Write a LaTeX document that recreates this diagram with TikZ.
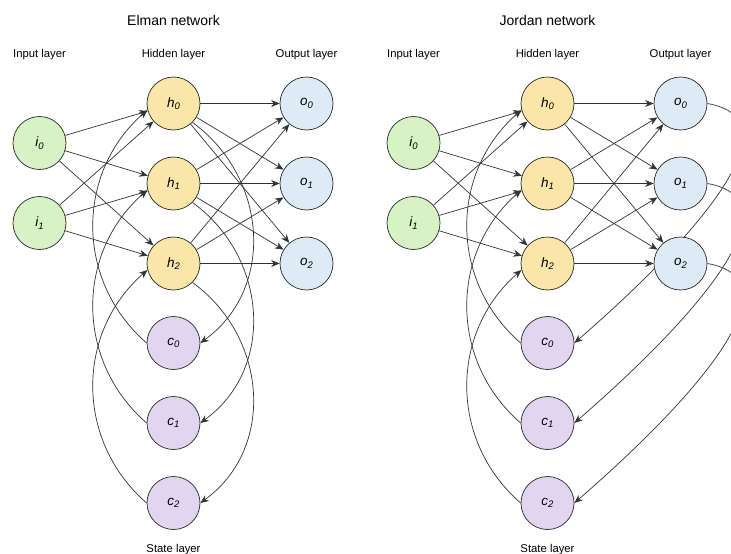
\documentclass[tikz,border=0pt]{standalone}
\usepackage{fontspec}
\setmainfont{Liberation Sans}
\usetikzlibrary{arrows.meta,backgrounds}

\definecolor{inpfill}{HTML}{D7F2C4}
\definecolor{hidfill}{HTML}{FAE6A8}
\definecolor{outfill}{HTML}{DEEBF7}
\definecolor{ctxfill}{HTML}{E1D5F0}
\definecolor{ink}{HTML}{333333}

% italic unit name with a lowered italic index
\newcommand\unitlbl[2]{{\fontsize{13.5}{14}\selectfont\itshape #1\raisebox{-2.6pt}{\fontsize{9.5}{10}\selectfont #2}}}

\tikzset{
  unit/.style={circle, draw=ink, line width=0.75pt, minimum size=53pt, inner sep=0pt},
  inpunit/.style={unit, fill=inpfill},
  hidunit/.style={unit, fill=hidfill},
  outunit/.style={unit, fill=outfill},
  ctxunit/.style={unit, fill=ctxfill},
  link/.style={draw=ink, line width=0.7pt, -{Stealth[length=8.5pt,width=7pt]}},
  heading/.style={font=\fontsize{14}{16}\selectfont, anchor=base},
  layerlbl/.style={font=\fontsize{11.3}{13}\selectfont, anchor=base},
}

% one network: #1 name prefix, #2 horizontal offset, #3 title
\newcommand\netlayers[3]{%
  \node[heading]  (#1title) at (173.5+#2,-25)   {#3};
  \node[layerlbl] (#1inlbl) at (39.5+#2,-57.5)  {Input layer};
  \node[layerlbl] (#1hdlbl) at (173.5+#2,-57.5) {Hidden layer};
  \node[layerlbl] (#1oulbl) at (306.5+#2,-57.5) {Output layer};
  \node[layerlbl] (#1stlbl) at (173.5+#2,-552)  {State layer};
  \node[inpunit] (#1i0) at (39.5+#2,-143) {\unitlbl{i}{0}};
  \node[inpunit] (#1i1) at (39.5+#2,-223) {\unitlbl{i}{1}};
  \node[hidunit] (#1h0) at (173.5+#2,-103.5) {\unitlbl{h}{0}};
  \node[hidunit] (#1h1) at (173.5+#2,-183.5) {\unitlbl{h}{1}};
  \node[hidunit] (#1h2) at (173.5+#2,-263.5) {\unitlbl{h}{2}};
  \node[outunit] (#1o0) at (306.5+#2,-103.5) {\unitlbl{o}{0}};
  \node[outunit] (#1o1) at (306.5+#2,-183.5) {\unitlbl{o}{1}};
  \node[outunit] (#1o2) at (306.5+#2,-263.5) {\unitlbl{o}{2}};
  \node[ctxunit] (#1c0) at (173.5+#2,-343) {\unitlbl{c}{0}};
  \node[ctxunit] (#1c1) at (173.5+#2,-423) {\unitlbl{c}{1}};
  \node[ctxunit] (#1c2) at (173.5+#2,-503) {\unitlbl{c}{2}};
  \begin{pgfonlayer}{background}
    \foreach \a in {0,1} \foreach \b in {0,1,2} \draw[link] (#1i\a) -- (#1h\b);
    \foreach \a in {0,1,2} \foreach \b in {0,1,2} \draw[link] (#1h\a) -- (#1o\b);
    % state units feed back into the hidden layer
    \foreach \k in {0,1,2}
      \draw[link] (#1c\k.180) to[out=139, in=221, distance=95pt] (#1h\k.194);
  \end{pgfonlayer}
}

\begin{document}
\begin{tikzpicture}[x=1pt, y=1pt]
  \clip (0,0) rectangle (731,-554);

  % Elman network: hidden layer copied into the state layer
  \netlayers{e}{0}{Elman network}
  \begin{pgfonlayer}{background}
    \foreach \k in {0,1,2}
      \draw[link] (eh\k.-45) to[out=-36, in=36, distance=93pt] (ec\k.east);
  \end{pgfonlayer}

  % Jordan network: output layer copied into the state layer
  \netlayers{j}{374}{Jordan network}
  \begin{pgfonlayer}{background}
    \foreach \k in {0,1,2}
      \draw[link] (jo\k.east) to[out=-10, in=41, out distance=91pt, in distance=170pt] (jc\k.east);
  \end{pgfonlayer}
\end{tikzpicture}
\end{document}
